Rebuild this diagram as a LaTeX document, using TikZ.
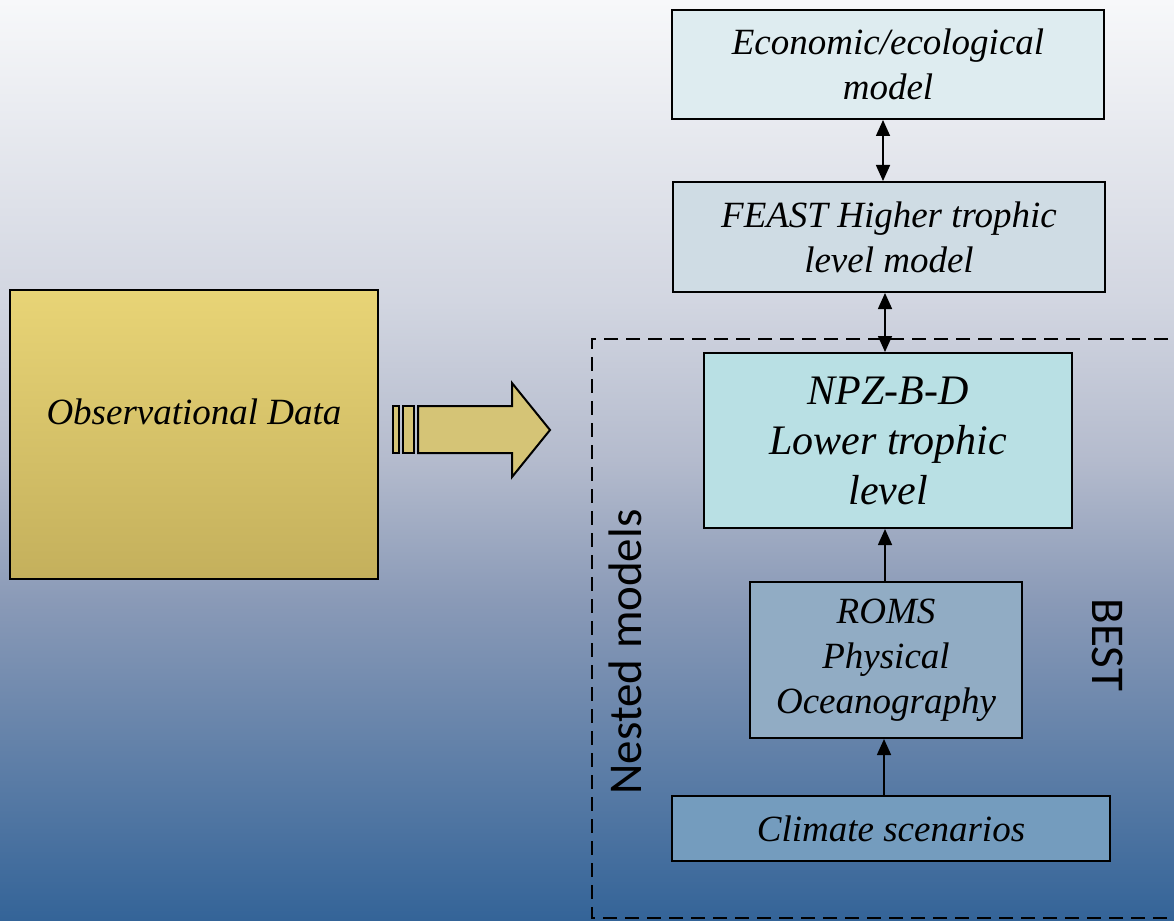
\documentclass[tikz,border=0pt]{standalone}
\usepackage{fontspec}
\setmainfont{Liberation Serif}
\setsansfont{Carlito}
\usetikzlibrary{calc,positioning,arrows.meta}

\definecolor{goldtop}{RGB}{232,212,118}
\definecolor{goldbot}{RGB}{196,176,92}
\definecolor{goldarr}{RGB}{213,196,118}
\definecolor{econfill}{RGB}{222,236,240}
\definecolor{feastfill}{RGB}{207,220,228}
\definecolor{npzfill}{RGB}{185,224,228}
\definecolor{romsfill}{RGB}{145,172,196}
\definecolor{climfill}{RGB}{116,156,190}

% background, light at the top and blue at the bottom
\pgfdeclareverticalshading{bgshade}{100bp}{
  rgb(0bp)=(0.204,0.392,0.596);
  rgb(25bp)=(0.204,0.392,0.596);
  rgb(42.4bp)=(0.541,0.604,0.718);
  rgb(50bp)=(0.706,0.733,0.804);
  rgb(58.7bp)=(0.824,0.839,0.882);
  rgb(75bp)=(0.969,0.973,0.980);
  rgb(100bp)=(0.969,0.973,0.980)}

\newcommand{\boxfont}{\fontsize{37}{45}\selectfont\itshape}
\newcommand{\bigboxfont}{\fontsize{42}{50}\selectfont\itshape}
\newcommand{\sidefont}{\sffamily\fontsize{47}{50}\selectfont}

\begin{document}
\begin{tikzpicture}[x=1pt,y=-1pt,inner sep=0pt,
  model/.style={draw=black,line width=2pt,align=center,font=\boxfont},
  link/.style={line width=1.6pt,-{Triangle[length=16pt,width=14pt]}},
  dbl/.style={line width=1.6pt,{Triangle[length=16pt,width=14pt]}-{Triangle[length=16pt,width=14pt]}}]
\useasboundingbox (0,0) rectangle (1174,920);
\shade[shading=bgshade] (0,0) rectangle (1174,920);

% the nested models frame
\draw[line width=2pt,dash pattern=on 14pt off 8pt] (1190,339) -- (592,339) -- (592,918) -- (1190,918);

\node (obs) [model,top color=goldtop,bottom color=goldbot,minimum width=368pt,minimum height=289pt] at (194,434.5) {\raisebox{10pt}[0pt][0pt]{Observational Data}};

\node (econ) [model,fill=econfill,minimum width=432pt,minimum height=109pt] at (888,64.5) {Economic/ecological\\model};
\node (feast) [model,fill=feastfill,minimum width=432pt,minimum height=110pt] at (889,237) {FEAST Higher trophic\\level model};
\node (npz) [model,fill=npzfill,font=\bigboxfont,minimum width=368pt,minimum height=175pt] at (888,440.5) {NPZ-B-D\\Lower trophic\\level};
\node (roms) [model,fill=romsfill,minimum width=272pt,minimum height=156pt] at (886,660) {ROMS\\Physical\\Oceanography};
\node (clim) [model,fill=climfill,minimum width=438pt,minimum height=65pt] at (891,828.5) {Climate scenarios};

\draw[dbl] ([xshift=-5pt]econ.south) -- ([xshift=-6pt]feast.north);
\draw[dbl] ([xshift=-4pt]feast.south) -- ([xshift=-3pt]npz.north);
\draw[link] ([xshift=-1pt]roms.north) -- ([xshift=-3pt]npz.south);
\draw[link] ([xshift=-7pt]clim.north) -- ([xshift=-2pt]roms.south);

% block arrow
\draw[line width=2pt,fill=goldarr] (393,406) rectangle (399,453);
\draw[line width=2pt,fill=goldarr] (403,406) rectangle (414,453);
\draw[line width=2pt,fill=goldarr,line join=miter] (418,406) -- (512,406) -- (512,383) -- (550,430) -- (512,477) -- (512,453) -- (418,453) -- cycle;

\node (nested) [font=\sidefont,rotate=90] at (625,652) {Nested models};
\node (best) [font=\sidefont,rotate=-90] at (1108,645) {BEST};
\end{tikzpicture}
\end{document}
